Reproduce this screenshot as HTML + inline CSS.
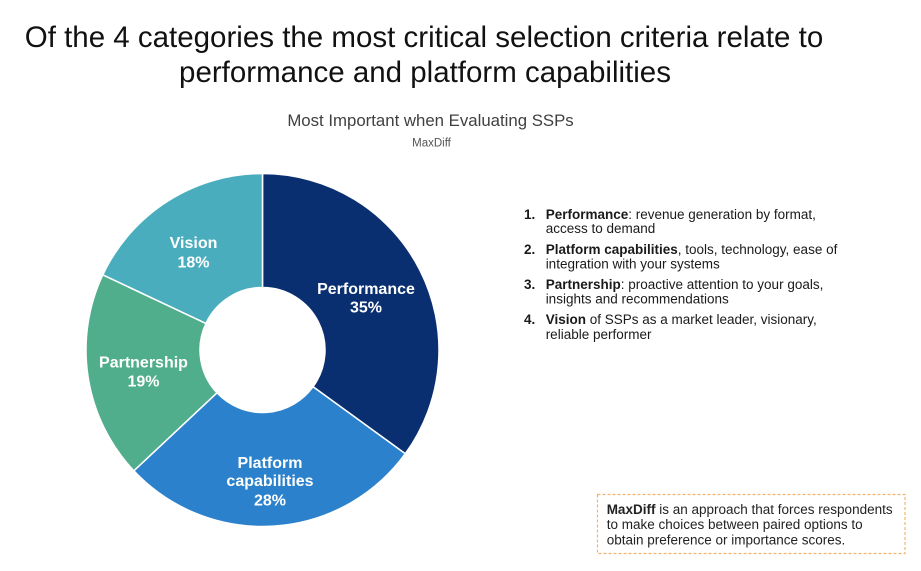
<!DOCTYPE html>
<html>
<head>
<meta charset="utf-8">
<style>
  html, body { margin: 0; padding: 0; background: #ffffff; }
  body { width: 921px; height: 571px; overflow: hidden; }
  svg { display: block; font-family: "Liberation Sans", Arial, sans-serif; }
</style>
</head>
<body>
<svg width="921" height="571" viewBox="0 0 921 571" xmlns="http://www.w3.org/2000/svg">
  <rect width="921" height="571" fill="#ffffff"/>

  <!-- Title -->
  <text x="424" y="47" text-anchor="middle" font-size="29.5" fill="#111111">Of the 4 categories the most critical selection criteria relate to</text>
  <text x="425" y="82" text-anchor="middle" font-size="29.5" fill="#111111">performance and platform capabilities</text>

  <!-- Chart subtitle -->
  <text x="430.5" y="126" text-anchor="middle" font-size="16.8" fill="#404040">Most Important when Evaluating SSPs</text>
  <text x="431.5" y="146.5" text-anchor="middle" font-size="11.5" fill="#555555">MaxDiff</text>

  <!-- Donut -->
  <g stroke="#ffffff" stroke-width="1.5" stroke-linejoin="round">
    <path d="M262.5,173.5 A176.5,176.5 0 0 1 405.29,453.75 L313.06,386.74 A62.5,62.5 0 0 0 262.5,287.5 Z" fill="#0a2f70"/>
    <path d="M405.29,453.75 A176.5,176.5 0 0 1 133.84,470.82 L216.94,392.78 A62.5,62.5 0 0 0 313.06,386.74 Z" fill="#2b81cb"/>
    <path d="M133.84,470.82 A176.5,176.5 0 0 1 102.80,274.85 L205.95,323.39 A62.5,62.5 0 0 0 216.94,392.78 Z" fill="#50ae8c"/>
    <path d="M102.80,274.85 A176.5,176.5 0 0 1 262.5,173.5 L262.5,287.5 A62.5,62.5 0 0 0 205.95,323.39 Z" fill="#4aadbd"/>
  </g>

  <!-- Donut labels -->
  <g font-size="16" font-weight="bold" fill="#ffffff" text-anchor="middle">
    <text x="366" y="294">Performance</text>
    <text x="366" y="312.5">35%</text>
    <text x="193.5" y="248">Vision</text>
    <text x="193.5" y="267.5">18%</text>
    <text x="143.5" y="367.5">Partnership</text>
    <text x="143.5" y="386.5">19%</text>
    <text x="270" y="468">Platform</text>
    <text x="270" y="486">capabilities</text>
    <text x="270" y="505.5">28%</text>
  </g>

  <!-- Numbered list -->
  <g font-size="13.5" fill="#1a1a1a">
    <text x="524" y="219" font-weight="bold">1.</text>
    <text x="545.7" y="219"><tspan font-weight="bold">Performance</tspan>: revenue generation by format,</text>
    <text x="545.7" y="233">access to demand</text>

    <text x="524" y="254" font-weight="bold">2.</text>
    <text x="545.7" y="254"><tspan font-weight="bold">Platform capabilities</tspan>, tools, technology, ease of</text>
    <text x="545.7" y="268.5">integration with your systems</text>

    <text x="524" y="289" font-weight="bold">3.</text>
    <text x="545.7" y="289"><tspan font-weight="bold">Partnership</tspan>: proactive attention to your goals,</text>
    <text x="545.7" y="303.5">insights and recommendations</text>

    <text x="524" y="324" font-weight="bold">4.</text>
    <text x="545.7" y="324"><tspan font-weight="bold">Vision</tspan> of SSPs as a market leader, visionary,</text>
    <text x="545.7" y="339">reliable performer</text>
  </g>

  <!-- MaxDiff note box -->
  <rect x="597.5" y="494.5" width="307.5" height="59" fill="none" stroke="#f2b36e" stroke-width="1.2" stroke-dasharray="3,2"/>
  <g font-size="13.5" fill="#222222">
    <text x="606.7" y="514"><tspan font-weight="bold">MaxDiff</tspan> is an approach that forces respondents</text>
    <text x="606.7" y="529">to make choices between paired options to</text>
    <text x="606.7" y="544.5">obtain preference or importance scores.</text>
  </g>
</svg>
</body>
</html>
